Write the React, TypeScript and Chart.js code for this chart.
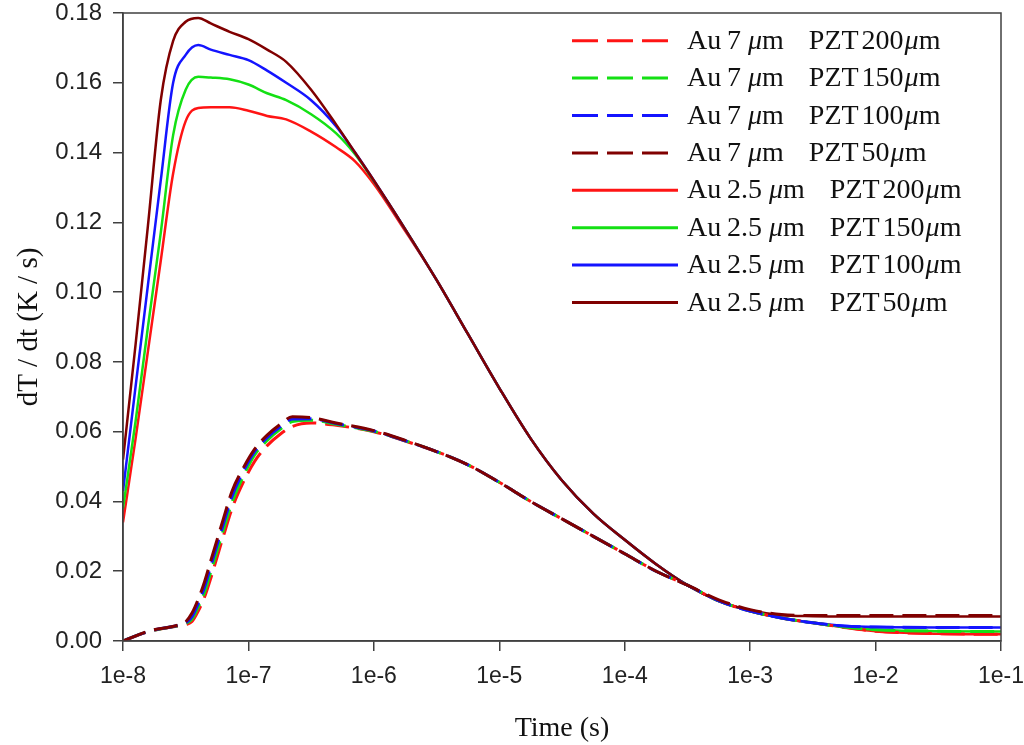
import React, { useEffect, useRef } from 'react'
import { Chart, registerables } from 'chart.js'

Chart.register(...registerables)

// Au 2.5 µm curves (solid) share one time grid
const solidTime = [
  1e-8, 1.26e-8, 1.58e-8, 2e-8, 2.51e-8, 3.16e-8, 3.98e-8, 5.01e-8, 7.08e-8, 1e-7,
  1.41e-7, 2e-7, 3.16e-7, 5.01e-7, 7.08e-7, 1e-6, 1.78e-6, 3.16e-6, 5.62e-6, 1e-5,
  1.78e-5, 3.16e-5, 5.62e-5, 1e-4, 1.78e-4, 3.16e-4, 5.62e-4, 1e-3, 1.78e-3, 3.16e-3,
  5.62e-3, 1e-2, 3.16e-2, 1e-1,
]
const solidPzt200 = [
  0.034, 0.058, 0.083, 0.109, 0.134, 0.149, 0.1528, 0.153, 0.153, 0.152,
  0.1505, 0.1495, 0.146, 0.1415, 0.1375, 0.131, 0.1175, 0.1035, 0.088, 0.0725,
  0.058, 0.046, 0.0365, 0.029, 0.022, 0.016, 0.0115, 0.0086, 0.0066, 0.0052,
  0.0039, 0.0028, 0.0021, 0.0019,
]
const solidPzt150 = [
  0.038, 0.063, 0.09, 0.117, 0.145, 0.158, 0.1617, 0.1615, 0.161, 0.1595,
  0.157, 0.155, 0.151, 0.1455, 0.1395, 0.1318, 0.118, 0.1035, 0.088, 0.0725,
  0.058, 0.046, 0.0365, 0.029, 0.022, 0.016, 0.0115, 0.0086, 0.0066, 0.0052,
  0.004, 0.0032, 0.0028, 0.0027,
]
const solidPzt100 = [
  0.043, 0.073, 0.102, 0.132, 0.16, 0.168, 0.1708, 0.1695, 0.168, 0.1665,
  0.1635, 0.16, 0.155, 0.1475, 0.14, 0.132, 0.118, 0.1035, 0.088, 0.0725,
  0.058, 0.046, 0.0365, 0.029, 0.022, 0.016, 0.0115, 0.0086, 0.0066, 0.0052,
  0.0043, 0.004, 0.0039, 0.0039,
]
const solidPzt50 = [
  0.052, 0.085, 0.119, 0.155, 0.172, 0.1775, 0.1786, 0.177, 0.1746, 0.1725,
  0.1695, 0.166, 0.158, 0.148, 0.14, 0.132, 0.118, 0.1035, 0.088, 0.0725,
  0.058, 0.046, 0.0365, 0.029, 0.022, 0.016, 0.0115, 0.0088, 0.0074, 0.0071,
  0.007, 0.007, 0.007, 0.007,
]

// Au 7 µm curves (dashed)
const dashedTime = [
  1e-8, 1.58e-8, 2.82e-8, 3.16e-8, 3.55e-8, 3.98e-8, 4.47e-8, 5.01e-8, 5.62e-8, 6.31e-8,
  7.41e-8, 8.91e-8, 1.12e-7, 1.41e-7, 1.78e-7, 2.24e-7, 3.16e-7, 5.01e-7, 1e-6, 1.78e-6,
  3.16e-6, 5.62e-6, 1e-5, 1.78e-5, 3.16e-5, 5.62e-5, 1e-4, 1.78e-4, 3.16e-4, 5.62e-4,
  1e-3, 1.78e-3, 3.16e-3, 5.62e-3, 1e-2, 3.16e-2, 1e-1,
]
const dashedPzt200 = [
  0, 0.0026, 0.0044, 0.0047, 0.0056, 0.0086, 0.0126, 0.018, 0.024, 0.03,
  0.038, 0.0448, 0.0515, 0.056, 0.0592, 0.0615, 0.0625, 0.0618, 0.06, 0.0573,
  0.0543, 0.0505, 0.0455, 0.04, 0.035, 0.03, 0.025, 0.02, 0.016, 0.0115,
  0.0086, 0.0066, 0.0052, 0.0039, 0.0028, 0.0021, 0.0019,
]
const dashedPzt150 = [
  0, 0.0027, 0.0045, 0.005, 0.0063, 0.0097, 0.014, 0.0198, 0.0258, 0.0318,
  0.0398, 0.0465, 0.0533, 0.0575, 0.0606, 0.0629, 0.0633, 0.0621, 0.0601, 0.0574,
  0.0543, 0.0505, 0.0455, 0.04, 0.035, 0.03, 0.025, 0.02, 0.016, 0.0115,
  0.0086, 0.0066, 0.0052, 0.004, 0.0032, 0.0028, 0.0027,
]
const dashedPzt100 = [
  0, 0.0027, 0.0046, 0.0052, 0.007, 0.0108, 0.0155, 0.0215, 0.0275, 0.0335,
  0.0415, 0.048, 0.0543, 0.0583, 0.0613, 0.0636, 0.0637, 0.0623, 0.0602, 0.0574,
  0.0543, 0.0505, 0.0455, 0.04, 0.035, 0.03, 0.025, 0.02, 0.016, 0.0115,
  0.0086, 0.0066, 0.0052, 0.0043, 0.004, 0.0039, 0.0039,
]
const dashedPzt50 = [
  0, 0.0028, 0.0047, 0.0055, 0.008, 0.012, 0.017, 0.023, 0.029, 0.035,
  0.043, 0.049, 0.055, 0.059, 0.062, 0.0643, 0.064, 0.0625, 0.0603, 0.0575,
  0.0543, 0.0505, 0.0455, 0.04, 0.035, 0.03, 0.025, 0.02, 0.016, 0.0118,
  0.009, 0.0076, 0.0073, 0.0073, 0.0073, 0.0073, 0.0073,
]

const auLabels = ['7', '7', '7', '7', '2.5', '2.5', '2.5', '2.5']
const pztLabels = ['200', '150', '100', '50', '200', '150', '100', '50']
const xTickValues = [1e-8, 1e-7, 1e-6, 1e-5, 1e-4, 1e-3, 1e-2, 1e-1]

const RED = '#ff1414'
const GREEN = '#14e014'
const BLUE = '#1414ff'
const DARKRED = '#800000'
const AXIS = '#404040'
const DASH = [24, 9]

const zip = (xs: number[], ys: number[]) => xs.map((x, i) => ({ x, y: ys[i] }))

const frame = {
  id: 'frame',
  afterDatasetsDraw(chart: any) {
    const { ctx, chartArea: a } = chart
    ctx.save()
    ctx.strokeStyle = AXIS
    ctx.lineWidth = 1.5
    ctx.strokeRect(a.left, a.top, a.right - a.left, a.bottom - a.top)
    ctx.restore()
  },
}

// legend sits inside the plot, top right
const insideLegend = {
  id: 'insideLegend',
  afterDraw(chart: any) {
    const { ctx } = chart
    const upright = '28px "Liberation Serif"'
    const italic = 'italic 28px "Liberation Serif"'
    const unit = (x: number, y: number) => {
      ctx.font = italic
      ctx.fillText('\u03bc', x, y)
      x += ctx.measureText('\u03bc').width
      ctx.font = upright
      ctx.fillText('m', x, y)
      return x + ctx.measureText('m').width
    }
    ctx.save()
    chart.data.datasets.forEach((ds: any, i: number) => {
      const y = 40.7 + i * 37.4
      const dashed = i < 4
      ctx.strokeStyle = ds.borderColor
      ctx.lineWidth = 3
      ctx.setLineDash(dashed ? [26, 9] : [])
      ctx.beginPath()
      ctx.moveTo(572, y)
      ctx.lineTo(dashed ? 668 : 678, y)
      ctx.stroke()
      ctx.setLineDash([])

      const base = y + 8
      ctx.fillStyle = '#111'
      ctx.textBaseline = 'alphabetic'
      ctx.textAlign = 'left'
      ctx.font = upright
      ctx.fillText('Au', 687, base)
      let x = 727
      ctx.fillText(auLabels[i], x, base)
      x += ctx.measureText(auLabels[i]).width + 7
      x = unit(x, base) + 25
      ctx.font = upright
      ctx.fillText('PZT', x, base)
      x += ctx.measureText('PZT').width + 3
      ctx.fillText(pztLabels[i], x, base)
      x += ctx.measureText(pztLabels[i]).width + 1
      unit(x, base)
    })
    ctx.restore()
  },
}

const App: React.FC = () => {
  const ref = useRef<HTMLCanvasElement | null>(null)

  useEffect(() => {
    if (!ref.current) return
    const colors = [RED, GREEN, BLUE, DARKRED]
    const dashedSets = [dashedPzt200, dashedPzt150, dashedPzt100, dashedPzt50]
    const solidSets = [solidPzt200, solidPzt150, solidPzt100, solidPzt50]
    const label = (i: number) => `Au ${auLabels[i]} \u03bcm   PZT${pztLabels[i]}\u03bcm`

    const datasets = [
      ...dashedSets.map((ys, i) => ({
        label: label(i),
        data: zip(dashedTime, ys),
        borderColor: colors[i],
        borderWidth: 3,
        borderDash: DASH,
        order: 3 - i,
      })),
      ...solidSets.map((ys, i) => ({
        label: label(i + 4),
        data: zip(solidTime, ys),
        borderColor: colors[i],
        borderWidth: 2.5,
        order: 7 - i,
      })),
    ]

    const chart = new Chart(ref.current, {
      type: 'line',
      data: { datasets },
      options: {
        animation: false,
        responsive: true,
        maintainAspectRatio: false,
        layout: { padding: { top: 13, right: 23, left: 0, bottom: 0 } },
        elements: {
          point: { radius: 0 },
          line: { cubicInterpolationMode: 'monotone', fill: false },
        },
        plugins: { legend: { display: false }, tooltip: { enabled: false } },
        scales: {
          x: {
            type: 'logarithmic',
            min: 1e-8,
            max: 1e-1,
            afterBuildTicks: (scale: any) => {
              scale.ticks = xTickValues.map((value) => ({ value }))
            },
            afterFit: (scale: any) => {
              scale.height = 104
              scale.paddingLeft = 0
              scale.paddingRight = 0
            },
            ticks: {
              autoSkip: false,
              maxRotation: 0,
              padding: 12,
              color: '#222',
              font: { family: '"Liberation Sans", Arial', size: 23 },
              callback: (v: any) => `1e${Math.round(Math.log10(Number(v)))}`,
            },
            grid: { drawOnChartArea: false, drawTicks: true, tickLength: 10, color: AXIS, lineWidth: 1.5 },
            border: { display: true, color: AXIS, width: 1.5 },
            title: {
              display: true,
              text: 'Time (s)',
              color: '#111',
              padding: { top: 0, bottom: 0 },
              font: { family: '"Liberation Serif", "Times New Roman"', size: 28, lineHeight: 1.2 },
            },
          },
          y: {
            min: 0,
            max: 0.18,
            afterFit: (scale: any) => {
              scale.width = 123
              scale.paddingTop = 0
              scale.paddingBottom = 0
            },
            ticks: {
              stepSize: 0.02,
              padding: 11,
              color: '#222',
              font: { family: '"Liberation Sans", Arial', size: 24 },
              callback: (v: any) => Number(v).toFixed(2),
            },
            grid: { drawOnChartArea: false, drawTicks: true, tickLength: 10, color: AXIS, lineWidth: 1.5 },
            border: { display: true, color: AXIS, width: 1.5 },
            title: {
              display: true,
              text: 'dT / dt (K / s)',
              color: '#111',
              padding: { top: 12, bottom: 0 },
              font: { family: '"Liberation Serif", "Times New Roman"', size: 29, lineHeight: 1.2 },
            },
          },
        },
      },
      plugins: [frame, insideLegend],
    } as any)
    return () => chart.destroy()
  }, [])

  return (
    <div style={{ position: 'absolute', left: 0, top: 0, width: 1024, height: 745, background: '#fff' }}>
      <canvas ref={ref} />
    </div>
  )
}

export default App
